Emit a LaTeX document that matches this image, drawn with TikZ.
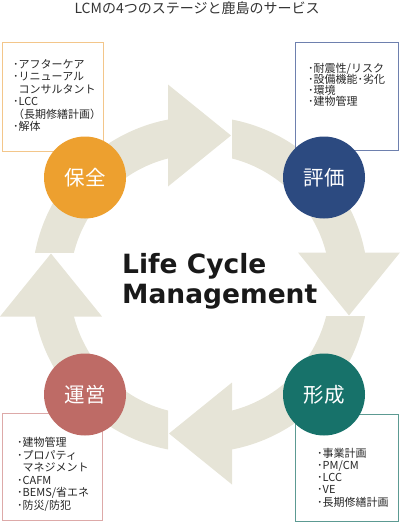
\documentclass[tikz,border=0pt]{standalone}
\usepackage{fontspec}
\newfontfamily\jpfont{Noto Sans CJK JP}
\newfontfamily\lcmfont{DejaVu Sans}
\definecolor{ringbeige}{HTML}{E6E4D7}
\definecolor{hozen}{HTML}{EDA02F}
\definecolor{hyoka}{HTML}{2C4A80}
\definecolor{unei}{HTML}{BE6B66}
\definecolor{keisei}{HTML}{17726A}
\definecolor{hozenline}{HTML}{F3C68A}
\definecolor{hyokaline}{HTML}{6E80AE}
\definecolor{uneiline}{HTML}{DDA9A8}
\definecolor{keiseiline}{HTML}{5C9A92}
\tikzset{
  stage/.style={circle, minimum size=82pt, inner sep=0pt, text=white,
    font=\jpfont\fontsize{20.5}{22}\selectfont},
  item/.style={anchor=base west, inner sep=0pt, text=black!85,
    font=\jpfont\fontsize{11}{13}\selectfont},
  svcbox/.style={line width=0.9pt},
  ring/.style={fill=ringbeige, even odd rule}
}
\begin{document}
\begin{tikzpicture}[x=1pt, y=-1pt]
        \useasboundingbox (0,0) rectangle (400,523);
        \coordinate (c) at (200,284.5);

        % リング
        \begin{scope}
          \clip (0,0) rectangle (168,252.5);
          \fill[ring] (c) circle[radius=168pt] (c) circle[radius=130pt];
        \end{scope}
        \begin{scope}
          \clip (232,0) rectangle (400,252.5);
          \fill[ring] (c) circle[radius=168pt] (c) circle[radius=130pt];
        \end{scope}
        \begin{scope}
          \clip (232,316.5) rectangle (400,523);
          \fill[ring] (c) circle[radius=168pt] (c) circle[radius=130pt];
        \end{scope}
        \begin{scope}
          \clip (0,316.5) rectangle (168,523);
          \fill[ring] (c) circle[radius=168pt] (c) circle[radius=130pt];
        \end{scope}

        % 矢印
        \fill[ringbeige] (168,84.5) -- (168,186.5) -- (231,135.5) -- cycle;
        \fill[ringbeige] (298,252.5) -- (400,252.5) -- (349,315.5) -- cycle;
        \fill[ringbeige] (232,382.5) -- (232,484.5) -- (169,433.5) -- cycle;
        \fill[ringbeige] (0,316.5) -- (102,316.5) -- (51,253.5) -- cycle;

        % 枠
        \draw[svcbox, hozenline] (2,42) rectangle (103,151);
        \draw[svcbox, hyokaline] (295,42) rectangle (398,150.5);
        \draw[svcbox, uneiline] (2,413) rectangle (102,520);
        \draw[svcbox, keiseiline] (295,414) rectangle (398,521.5);

        % ステージ
        \node[stage, fill=hozen] (hozen) at (85,177.5) {保全};
        \node[stage, fill=hyoka] (hyoka) at (324,177.5) {評価};
        \node[stage, fill=unei] (unei) at (85,394.5) {運営};
        \node[stage, fill=keisei] (keisei) at (324,394.5) {形成};

        % サービス
        \foreach \t [count=\i] in {･アフターケア, ･リニューアル, \phantom{･}コンサルタント, ･LCC, （長期修繕計画）, ･解体}
          \node[item] (tl\i) at (13,{68+12.5*(\i-1)}) {\t};
        \foreach \t [count=\i] in {･耐震性/リスク, ･設備機能･劣化, ･環境, ･建物管理}
          \node[item] (tr\i) at (308,{72+11.3*(\i-1)}) {\t};
        \foreach \t [count=\i] in {･建物管理, ･プロパティ, \phantom{･}マネジメント, ･CAFM, ･BEMS/省エネ, ･防災/防犯}
          \node[item] (bl\i) at (17,{446.5+12.6*(\i-1)}) {\t};
        \foreach \t [count=\i] in {･事業計画, ･PM/CM, ･LCC, ･VE, ･長期修繕計画}
          \node[item] (br\i) at (317,{457+12.3*(\i-1)}) {\t};

        % タイトル
        \node[text=black!80, font=\jpfont\fontsize{14}{16}\selectfont] (title) at (197,8) {LCMの4つのステージと鹿島のサービス};
        \node[anchor=base west, inner sep=0pt, text=black!90, font=\lcmfont\bfseries\fontsize{26.5}{30}\selectfont] (lcm1) at (122,273) {Life Cycle};
        \node[anchor=base west, inner sep=0pt, text=black!90, font=\lcmfont\bfseries\fontsize{26.5}{30}\selectfont] (lcm2) at (122,303) {Management};
    \end{tikzpicture}
\end{document}
